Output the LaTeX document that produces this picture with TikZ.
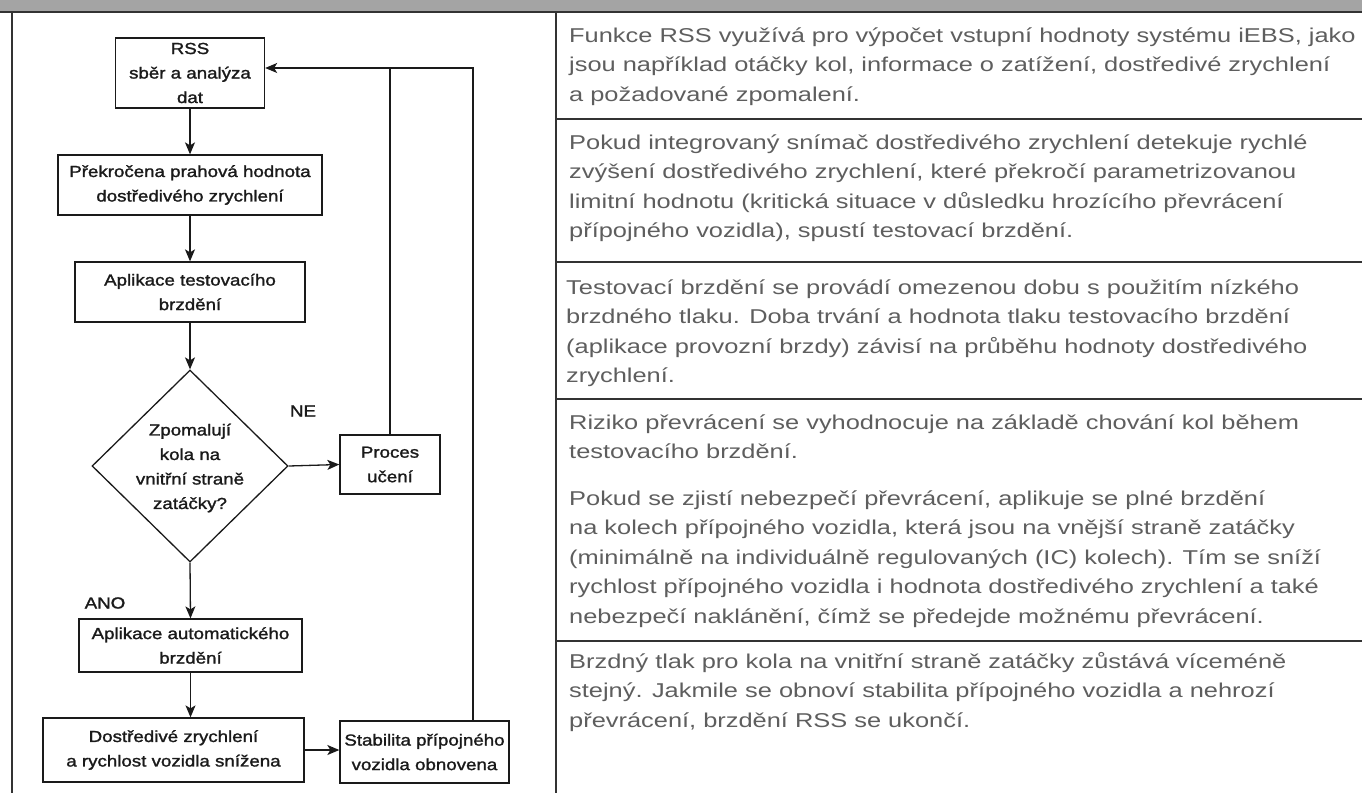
\documentclass[tikz,border=0pt]{standalone}
\usepackage{fontspec}
\usetikzlibrary{arrows.meta,shapes.geometric}
\newfontfamily\flowfont[FakeStretch=1.17,FakeBold=1.5]{Liberation Sans}
\newfontfamily\descfont[FakeStretch=1.27]{Liberation Sans}
\definecolor{hdrgray}{HTML}{A4A4A4}
\definecolor{rulegray}{HTML}{333333}
\definecolor{txtgray}{HTML}{5E5E5E}
\definecolor{ink}{HTML}{1A1A1A}
\tikzset{
  flowbox/.style={draw=ink, line width=1.3pt, align=center, inner sep=0pt, text=ink,
    font=\flowfont\fontsize{16}{24.5}\selectfont},
  flowtext/.style={align=center, inner sep=0pt, text=ink,
    font=\flowfont\fontsize{16}{24.5}\selectfont},
  arr/.style={draw=ink, line width=1.3pt, -{Stealth[length=12pt,width=10pt,inset=3pt]}},
  conn/.style={draw=ink, line width=1.3pt},
  desc/.style={anchor=base west, inner sep=0pt, align=left, text=txtgray,
    font=\descfont\fontsize{20}{29.5}\selectfont},
  tbl/.style={draw=rulegray, line width=1.2pt}
}
\begin{document}
\begin{tikzpicture}[x=1pt,y=-1pt]
\useasboundingbox (0,0) rectangle (1362,793);
% table frame
\fill[hdrgray] (0,0) rectangle (1362,12);
\draw[tbl] (0,12) -- (1362,12);
\draw[tbl] (12,12) -- (12,793);
\draw[tbl] (556,12) -- (556,793);
\draw[tbl] (556,119) -- (1362,119);
\draw[tbl] (556,262) -- (1362,262);
\draw[tbl] (556,399) -- (1362,399);
\draw[tbl] (556,641) -- (1362,641);

% flowchart nodes
\node[flowbox, minimum width=149pt, minimum height=70pt] (rss) at (190,73) {RSS\\sběr a analýza\\dat};
\node[flowbox, minimum width=264pt, minimum height=60pt] (prek) at (190,185) {Překročena prahová hodnota\\dostředivého zrychlení};
\node[flowbox, minimum width=230pt, minimum height=60pt] (apl1) at (190,292) {Aplikace testovacího\\brzdění};
\node[diamond, draw=ink, line width=1.3pt, minimum width=196pt, minimum height=192pt, inner sep=0pt] (dec) at (190,466) {};
\node[flowtext] (dectext) at (190,468) {Zpomalují\\kola na\\vnitřní straně\\zatáčky?};
\node[flowbox, minimum width=100pt, minimum height=59pt] (proc) at (390,464.5) {Proces\\učení};
\node[flowbox, minimum width=223pt, minimum height=53pt] (apl2) at (190.5,645.5) {Aplikace automatického\\brzdění};
\node[flowbox, minimum width=261pt, minimum height=64pt] (dost) at (173.5,750) {Dostředivé zrychlení\\a rychlost vozidla snížena};
\node[flowbox, minimum width=169pt, minimum height=62pt] (stab) at (424.5,752) {Stabilita přípojného\\vozidla obnovena};
\node[flowtext] (ne) at (303,411) {NE};
\node[flowtext] (ano) at (105,603) {ANO};
\coordinate (loopR) at (473,68);

% connectors
\draw[arr] (rss.south) -- (prek.north);
\draw[arr] (prek.south) -- (apl1.north);
\draw[arr] (apl1.south) -- (dec.north);
\draw[arr] (dec.east) -- (proc.west);
\draw[arr] (dec.south) -- (apl2.north);
\draw[arr] (apl2.south) -- (apl2.south |- dost.north);
\draw[arr] (dost.east) -- (dost.east -| stab.west);
\draw[arr] (stab.north -| loopR) -- (loopR) -- (rss.east |- loopR);
\draw[conn] (proc.north) -- (proc.north |- loopR);

% description texts (anchor = baseline of last line)
\node[desc] (d1) at (569,101) {Funkce RSS využívá pro výpočet vstupní hodnoty systému iEBS, jako\\jsou například otáčky kol, informace o zatížení, dostředivé zrychlení\\a požadované zpomalení.};
\node[desc] (d2) at (569,237.5) {Pokud integrovaný snímač dostředivého zrychlení detekuje rychlé\\zvýšení dostředivého zrychlení, které překročí parametrizovanou\\limitní hodnotu (kritická situace v důsledku hrozícího převrácení\\přípojného vozidla), spustí testovací brzdění.};
\node[desc] (d3) at (566,382.5) {Testovací brzdění se provádí omezenou dobu s použitím nízkého\\brzdného tlaku. Doba trvání a hodnota tlaku testovacího brzdění\\(aplikace provozní brzdy) závisí na průběhu hodnoty dostředivého\\zrychlení.};
\node[desc] (d4) at (569,458.5) {Riziko převrácení se vyhodnocuje na základě chování kol během\\testovacího brzdění.};
\node[desc] (d5) at (569,623) {Pokud se zjistí nebezpečí převrácení, aplikuje se plné brzdění\\na kolech přípojného vozidla, která jsou na vnější straně zatáčky\\(minimálně na individuálně regulovaných (IC) kolech). Tím se sníží\\rychlost přípojného vozidla i hodnota dostředivého zrychlení a také\\nebezpečí naklánění, čímž se předejde možnému převrácení.};
\node[desc] (d6) at (569,727) {Brzdný tlak pro kola na vnitřní straně zatáčky zůstává víceméně\\stejný. Jakmile se obnoví stabilita přípojného vozidla a nehrozí\\převrácení, brzdění RSS se ukončí.};
\end{tikzpicture}
\end{document}
